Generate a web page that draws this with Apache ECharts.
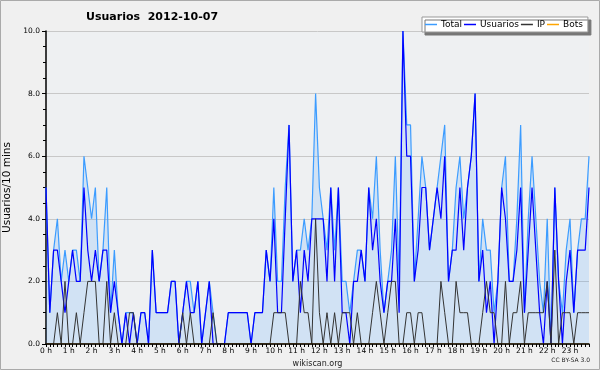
<!DOCTYPE html>
<html><head><meta charset="utf-8">
<script src="https://cdn.jsdelivr.net/npm/echarts@6/dist/echarts.min.js"></script>
<style>html,body{margin:0;padding:0;background:#f0f0f0}#c{width:600px;height:370px}</style>
</head><body><div id="c"></div>
<script>
const hourLabels = ['0 h','1 h','2 h','3 h','4 h','5 h','6 h','7 h','8 h','9 h','10 h','11 h','12 h','13 h','14 h','15 h','16 h','17 h','18 h','19 h','20 h','21 h','22 h','23 h'];
const minuteLabels = ['00','10','20','30','40','50'];
const yTicks = [0, 2, 4, 6, 8, 10];

const total = [
  5,1,3,4,2,3, 2,3,3,2,6,5, 4,5,2,3,5,1, 3,1,0,1,1,1,
  0,1,1,0,3,1, 1,1,1,2,2,0, 1,2,2,1,2,0, 1,2,1,0,0,0,
  1,1,1,1,1,1, 0,1,1,1,3,2, 5,2,2,5,7,2, 3,3,4,3,4,8,
  5,4,3,5,3,5, 2,2,1,2,3,3, 2,5,4,6,3,1, 2,3,6,2,10,7,
  7,2,4,6,5,3, 4,5,6,7,2,3, 5,6,4,5,6,8, 2,4,3,3,1,2,
  5,6,2,2,4,7, 1,4,6,4,2,1, 4,0,5,2,1,3, 4,1,3,4,4,6
];
const usuarios = [
  5,1,3,3,2,1, 2,3,2,2,5,3, 2,3,2,3,3,1, 2,1,0,1,0,1,
  0,1,1,0,3,1, 1,1,1,2,2,0, 1,2,1,1,2,0, 1,2,0,0,0,0,
  1,1,1,1,1,1, 0,1,1,1,3,2, 4,1,1,4,7,2, 3,1,3,2,4,4,
  4,4,2,5,2,5, 1,1,0,2,2,3, 2,5,3,4,2,1, 2,2,4,1,10,6,
  6,2,3,5,5,3, 4,5,4,6,2,3, 3,5,3,5,6,8, 2,3,1,2,0,2,
  5,4,2,2,3,5, 1,3,5,3,1,0, 2,0,5,2,0,2, 3,1,3,3,3,5
];
const ip = [
  0,0,0,1,0,2, 0,0,1,0,1,2, 2,2,0,0,2,0, 1,0,0,0,1,1,
  0,0,0,0,0,0, 0,0,0,0,0,0, 1,0,1,0,0,0, 0,0,1,0,0,0,
  0,0,0,0,0,0, 0,0,0,0,0,0, 1,1,1,1,0,0, 0,2,1,1,0,4,
  1,0,1,0,1,0, 1,1,1,0,1,0, 0,0,1,2,1,0, 1,2,2,0,0,1,
  1,0,1,1,0,0, 0,0,2,1,0,0, 2,1,1,1,0,0, 0,1,2,1,1,0,
  0,2,0,1,1,2, 0,1,1,1,1,1, 2,0,3,0,1,1, 1,0,1,1,1,1
];
const bots = [
  0,0,0,0,0,0, 0,0,0,0,0,0, 0,0,0,0,0,0, 0,0,0,0,0,0,
  0,0,0,0,0,0, 0,0,0,0,0,0, 0,0,0,0,0,0, 0,0,0,0,0,0,
  0,0,0,0,0,0, 0,0,0,0,0,0, 0,0,0,0,0,0, 0,0,0,0,0,0,
  0,0,0,0,0,0, 0,0,0,0,0,0, 0,0,0,0,0,0, 0,0,0,0,0,0,
  0,0,0,0,0,0, 0,0,0,0,0,0, 0,0,0,0,0,0, 0,0,0,0,0,0,
  0,0,0,0,0,0, 0,0,0,0,0,0, 0,0,0,0,0,0, 0,0,0,0,0,0
];

const categories = [];
hourLabels.forEach(h => minuteLabels.forEach(m => categories.push(h + ':' + m)));

const FONT = 'DejaVu Sans';
const chart = echarts.init(document.getElementById('c'), null, {renderer: 'canvas'});
chart.setOption({
  backgroundColor: '#f0f0f0',
  animation: false,
  title: {
    text: 'Usuarios  2012-10-07',
    left: 86, top: 12, padding: 0,
    textStyle: {fontFamily: FONT, fontSize: 11, fontWeight: 'bold', color: '#000'}
  },
  legend: {
    left: 422, top: 17,
    padding: [3, 5, 3, 3],
    itemGap: 2, itemWidth: 12, itemHeight: 1.5,
    icon: 'rect',
    backgroundColor: '#fff',
    borderColor: '#999', borderWidth: 1,
    shadowColor: '#777', shadowBlur: 0, shadowOffsetX: 3, shadowOffsetY: 3,
    textStyle: {fontFamily: FONT, fontSize: 9, color: '#000', padding: [0,0,0,-1]},
    data: ['Total', 'Usuarios', 'IP', 'Bots']
  },
  grid: {
    left: 46, right: 11, top: 31, bottom: 26,
    containLabel: false,
    outerBoundsMode: 'none',
    show: true, backgroundColor: '#eef0f2', borderWidth: 0
  },
  graphic: [
    {type: 'rect', silent: true, z: 100,
     shape: {x: 0.5, y: 0.5, width: 599, height: 369},
     style: {fill: 'none', stroke: '#aaa', lineWidth: 1}},
    {type: 'text', right: 10, top: 357,
     style: {text: 'CC BY-SA 3.0', fontFamily: FONT, fontSize: 6, fill: '#222'}}
  ],
  xAxis: {
    type: 'category',
    data: categories,
    boundaryGap: false,
    z: 5,
    name: 'wikiscan.org',
    nameLocation: 'middle',
    nameGap: 12,
    nameTextStyle: {fontFamily: FONT, fontSize: 8, color: '#222'},
    axisLine: {lineStyle: {color: '#000', width: 1.5}},
    axisTick: {show: true, interval: 0, length: 3, lineStyle: {color: '#000'}},
    axisLabel: {
      interval: (idx) => idx % 6 === 0,
      formatter: (val, idx) => hourLabels[Math.floor(idx / 6)],
      fontFamily: FONT, fontSize: 7.5, color: '#000', margin: 3
    },
    splitLine: {show: false}
  },
  yAxis: {
    type: 'value',
    min: yTicks[0], max: yTicks[yTicks.length - 1], interval: yTicks[1] - yTicks[0],
    name: 'Usuarios/10 mins',
    nameLocation: 'middle',
    nameRotate: 90,
    nameGap: 27,
    nameTextStyle: {fontFamily: FONT, fontSize: 10.5, color: '#000'},
    axisLine: {show: true, lineStyle: {color: '#000', width: 1.5}},
    axisTick: {show: true, length: 4, lineStyle: {color: '#000'}},
    minorTick: {show: true, splitNumber: 4, length: 3, lineStyle: {color: '#000'}},
    axisLabel: {
      formatter: (v) => v.toFixed(1),
      fontFamily: FONT, fontSize: 7.5, color: '#000', margin: 6
    },
    splitLine: {show: true, lineStyle: {color: '#c8c8c8', width: 1}}
  },
  series: [
    {name: 'Total', type: 'line', data: total, symbol: 'none',
     itemStyle: {color: '#3c9cff'},
     lineStyle: {color: '#3c9cff', width: 1.2},
     areaStyle: {color: 'rgba(51,153,255,0.22)'}},
    {name: 'Usuarios', type: 'line', data: usuarios, symbol: 'none',
     itemStyle: {color: '#0000ff'},
     lineStyle: {color: '#0000ff', width: 1.2}},
    {name: 'IP', type: 'line', data: ip, symbol: 'none',
     itemStyle: {color: '#333'},
     lineStyle: {color: '#333', width: 1}},
    {name: 'Bots', type: 'line', data: bots, symbol: 'none',
     itemStyle: {color: '#ffa500'},
     lineStyle: {color: '#ffa500', width: 1}}
  ]
});
</script>
</body></html>
